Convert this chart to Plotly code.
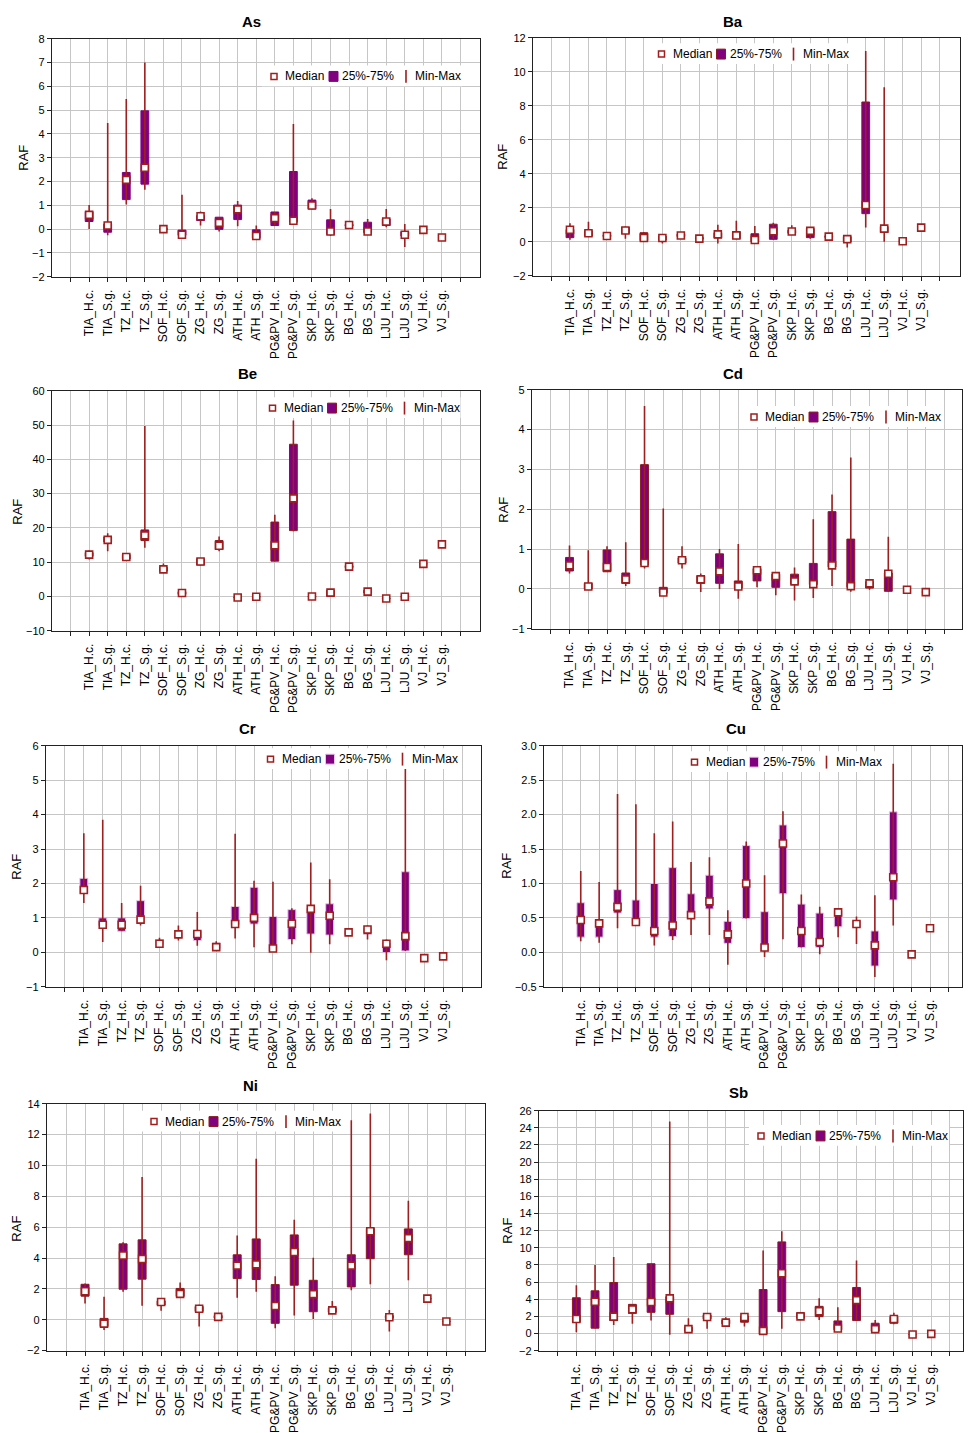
import plotly.graph_objects as go

W, H = 969, 1433

CATEGORIES = ["TIA_H.c.", "TIA_S.g.", "TZ_H.c.", "TZ_S.g.", "SOF_H.c.", "SOF_S.g.",
              "ZG_H.c.", "ZG_S.g.", "ATH_H.c.", "ATH_S.g.", "PG&PV_H.c.", "PG&PV_S.g.",
              "SKP_H.c.", "SKP_S.g.", "BG_H.c.", "BG_S.g.", "LJU_H.c.", "LJU_S.g.",
              "VJ_H.c.", "VJ_S.g."]

# ---- As ----
AS_MIN = [0.00, -0.26, 1.03, 1.65, -0.05, -0.30, 0.15, -0.10, 0.12, -0.44, 0.15, 0.29, 0.82, -0.29, 0.12, -0.15, 0.08, -0.75, -0.03, -0.35]
AS_Q1 = [0.32, -0.13, 1.24, 1.89, -0.02, -0.26, 0.36, -0.01, 0.40, -0.38, 0.15, 0.29, 0.85, -0.22, 0.13, -0.15, 0.15, -0.29, -0.03, -0.35]
AS_MED = [0.60, 0.15, 2.07, 2.58, 0.00, -0.24, 0.54, 0.26, 0.83, -0.29, 0.46, 0.35, 0.99, -0.10, 0.17, -0.10, 0.32, -0.24, -0.03, -0.35]
AS_Q3 = [0.74, 0.22, 2.38, 4.97, 0.03, -0.04, 0.57, 0.50, 1.01, -0.03, 0.72, 2.42, 1.22, 0.39, 0.20, 0.29, 0.43, -0.11, -0.03, -0.35]
AS_MAX = [1.01, 4.46, 5.47, 7.00, 0.05, 1.44, 0.74, 0.50, 1.18, 0.15, 0.72, 4.42, 1.30, 0.85, 0.20, 0.43, 0.85, 0.22, -0.03, -0.35]

# ---- Ba ----
BA_MIN = [0.11, 0.30, 0.28, 0.18, 0.06, -0.10, 0.28, 0.12, -0.10, 0.15, -0.05, 0.10, 0.39, 0.18, 0.22, -0.34, 0.83, 0.00, 0.03, 0.83]
BA_Q1 = [0.24, 0.33, 0.30, 0.49, 0.06, 0.10, 0.30, 0.15, 0.23, 0.18, 0.00, 0.14, 0.50, 0.24, 0.25, -0.01, 1.65, 0.54, 0.03, 0.83]
BA_MED = [0.70, 0.50, 0.34, 0.66, 0.22, 0.22, 0.37, 0.18, 0.43, 0.37, 0.10, 0.62, 0.60, 0.64, 0.30, 0.15, 2.16, 0.77, 0.03, 0.83]
BA_Q3 = [0.72, 0.65, 0.40, 0.84, 0.53, 0.33, 0.45, 0.25, 0.53, 0.60, 0.47, 1.03, 0.68, 0.78, 0.35, 0.30, 8.22, 0.89, 0.03, 0.83]
BA_MAX = [1.08, 1.17, 0.42, 0.89, 0.57, 0.33, 0.48, 0.27, 1.00, 1.23, 0.93, 1.12, 0.97, 0.80, 0.37, 0.30, 11.22, 9.08, 0.03, 0.83]

# ---- Be ----
BE_MIN = [10.8, 13.2, 10.7, 14.2, 6.9, 0.4, 9.0, 13.2, -0.5, -0.3, 10.3, 19.0, -0.2, 0.0, 8.3, 0.9, -0.8, -0.3, 9.5, 15.2]
BE_Q1 = [11.7, 15.9, 10.9, 16.3, 7.4, 0.6, 9.2, 13.7, -0.4, -0.2, 10.3, 19.2, -0.1, 0.1, 8.4, 1.0, -0.7, -0.2, 9.5, 15.2]
BE_MED = [12.2, 16.5, 11.5, 17.8, 7.9, 1.0, 10.2, 14.8, -0.3, -0.1, 14.9, 28.6, 0.0, 1.1, 8.7, 1.4, -0.6, -0.1, 9.5, 15.2]
BE_Q3 = [12.8, 17.3, 12.2, 19.4, 8.5, 1.4, 11.0, 16.3, -0.2, 0.0, 21.7, 44.4, 0.1, 1.8, 9.0, 1.8, -0.5, 0.0, 9.5, 15.2]
BE_MAX = [13.4, 18.4, 12.6, 49.7, 9.6, 2.0, 11.2, 17.5, -0.1, 0.1, 23.8, 51.3, 0.2, 2.2, 9.1, 1.9, -0.4, 0.1, 9.5, 15.2]

# ---- Cd ----
CD_MIN = [0.39, 0.00, 0.43, 0.07, 0.51, -0.13, 0.51, -0.08, 0.00, -0.25, 0.04, -0.16, -0.29, -0.23, 0.07, -0.07, -0.02, -0.07, -0.02, -0.08]
CD_Q1 = [0.45, 0.00, 0.43, 0.14, 0.60, -0.11, 0.65, 0.14, 0.14, 0.02, 0.20, 0.04, 0.12, 0.11, 0.55, 0.04, 0.02, -0.06, -0.02, -0.08]
CD_MED = [0.59, 0.06, 0.55, 0.24, 0.65, -0.09, 0.72, 0.24, 0.44, 0.06, 0.47, 0.32, 0.19, 0.12, 0.59, 0.07, 0.14, 0.38, -0.02, -0.08]
CD_Q3 = [0.79, 0.14, 0.98, 0.40, 3.12, 0.04, 0.78, 0.33, 0.88, 0.20, 0.51, 0.37, 0.37, 0.64, 1.94, 1.25, 0.18, 0.40, -0.02, -0.08]
CD_MAX = [1.09, 0.97, 1.07, 1.17, 4.59, 2.02, 1.07, 0.39, 1.00, 1.13, 0.51, 0.37, 0.54, 1.75, 2.37, 3.30, 0.22, 1.31, -0.02, -0.08]

# ---- Cr ----
CR_MIN = [1.43, 0.30, 0.61, 0.78, 0.21, 0.34, 0.19, 0.08, 0.40, 0.15, 0.04, 0.23, -0.01, 0.23, 0.48, 0.37, -0.23, 0.04, -0.17, -0.12]
CR_Q1 = [1.71, 0.78, 0.61, 0.85, 0.23, 0.42, 0.34, 0.11, 0.80, 0.82, 0.04, 0.37, 0.53, 0.50, 0.52, 0.52, -0.01, 0.04, -0.17, -0.12]
CR_MED = [1.81, 0.80, 0.80, 0.95, 0.25, 0.52, 0.53, 0.15, 0.82, 1.00, 0.11, 0.83, 1.26, 1.06, 0.58, 0.66, 0.25, 0.47, -0.17, -0.12]
CR_Q3 = [2.15, 1.00, 1.00, 1.50, 0.37, 0.56, 0.61, 0.27, 1.33, 1.89, 1.04, 1.24, 1.28, 1.41, 0.62, 0.70, 0.26, 2.34, -0.17, -0.12]
CR_MAX = [3.46, 3.85, 1.43, 1.93, 0.42, 0.78, 1.17, 0.32, 3.44, 2.08, 2.05, 1.28, 2.61, 2.12, 0.64, 0.78, 0.37, 5.60, -0.17, -0.12]

# ---- Cu ----
CU_MIN = [0.16, 0.14, 0.35, 0.42, 0.10, 0.18, 0.25, 0.25, -0.18, 0.49, -0.07, 0.19, 0.07, -0.03, 0.22, 0.12, -0.36, 0.39, -0.03, 0.35]
CU_Q1 = [0.22, 0.22, 0.57, 0.41, 0.22, 0.23, 0.49, 0.63, 0.13, 0.49, 0.01, 0.85, 0.07, 0.07, 0.37, 0.37, -0.20, 0.76, -0.03, 0.35]
CU_MED = [0.47, 0.42, 0.66, 0.44, 0.31, 0.39, 0.54, 0.74, 0.26, 1.00, 0.07, 1.58, 0.31, 0.15, 0.58, 0.41, 0.10, 1.09, -0.03, 0.35]
CU_Q3 = [0.72, 0.46, 0.91, 0.76, 1.00, 1.23, 0.85, 1.12, 0.45, 1.55, 0.59, 1.85, 0.70, 0.57, 0.60, 0.45, 0.31, 2.04, -0.03, 0.35]
CU_MAX = [1.18, 1.02, 2.30, 2.15, 1.73, 1.90, 1.31, 1.38, 0.61, 1.61, 1.12, 2.05, 0.84, 0.66, 0.63, 0.52, 0.83, 2.74, -0.03, 0.35]

# ---- Ni ----
NI_MIN = [1.06, -0.66, 1.81, 0.91, 0.59, 1.47, -0.44, 0.10, 1.43, 1.81, -0.55, 0.28, 0.05, 0.42, 1.92, 2.30, -0.76, 2.56, 1.37, -0.11]
NI_Q1 = [1.53, -0.44, 1.98, 2.63, 0.95, 1.51, 0.54, 0.12, 2.67, 2.61, -0.23, 2.24, 0.52, 0.48, 2.13, 3.96, 0.10, 4.21, 1.37, -0.11]
NI_MED = [1.85, -0.25, 4.17, 3.94, 1.15, 1.68, 0.71, 0.19, 3.51, 3.59, 0.89, 4.39, 1.66, 0.61, 3.51, 5.74, 0.16, 5.29, 1.37, -0.11]
NI_Q3 = [2.30, 0.09, 4.92, 5.18, 1.23, 2.03, 0.86, 0.27, 4.21, 5.24, 2.28, 5.50, 2.56, 0.78, 4.21, 5.93, 0.27, 5.89, 1.37, -0.11]
NI_MAX = [2.35, 1.49, 5.03, 9.26, 1.32, 2.41, 0.97, 0.30, 5.46, 10.44, 2.82, 6.49, 4.02, 1.22, 12.93, 13.36, 0.63, 7.71, 1.37, -0.11]

# ---- Sb ----
SB_MIN = [0.16, 0.62, 1.00, 1.13, 1.51, -0.15, 0.16, 0.55, 1.08, 0.81, -0.08, 0.55, 1.58, 1.58, 0.31, 1.51, 0.04, 1.08, -0.12, -0.04]
SB_Q1 = [1.32, 0.62, 1.51, 2.36, 2.47, 2.24, 0.27, 1.70, 1.12, 1.32, -0.08, 2.55, 1.78, 1.97, 0.43, 1.51, 0.27, 1.20, -0.12, -0.04]
SB_MED = [1.70, 3.71, 1.97, 2.82, 3.67, 4.10, 0.51, 1.93, 1.27, 1.93, 0.31, 7.03, 2.00, 2.59, 0.58, 3.90, 0.51, 1.70, -0.12, -0.04]
SB_Q3 = [4.17, 4.98, 5.95, 3.40, 8.14, 4.29, 0.74, 2.16, 1.58, 2.04, 5.13, 10.69, 2.36, 3.17, 1.47, 5.37, 1.20, 1.97, -0.12, -0.04]
SB_MAX = [5.64, 8.00, 8.92, 3.40, 8.14, 24.73, 1.78, 2.16, 1.89, 2.28, 9.69, 11.92, 2.47, 4.10, 3.05, 8.53, 1.58, 2.43, -0.12, -0.04]

PURPLE = "#800080"
WHISKER = "#9e1f1f"
MEDIAN_EDGE = "#a01e1e"
DARK_EDGE = "#8b1a1a"
PALE_EDGE = "#e6c8e6"
GRID = "#c6c6c6"
FONT = "Liberation Sans, Arial, sans-serif"

# panel layout: plot box in pixels (left, top, right, bottom), x extent, y axis, legend anchor, title & axis-label anchors
PANELS = [
    dict(name="As", data=(AS_MIN, AS_Q1, AS_MED, AS_Q3, AS_MAX), box=(52, 33, 480, 273), xmax=23.05,
         yrange=(-2, 8), dtick=1, fmt="", edge=PURPLE, leg=(274, 71), title=(251, 16), raf=(24, 153)),
    dict(name="Ba", data=(BA_MIN, BA_Q1, BA_MED, BA_Q3, BA_MAX), box=(533, 32, 960, 272), xmax=23.1,
         yrange=(-2, 12), dtick=2, fmt="", edge=DARK_EDGE, leg=(661.5, 48.5), title=(733, 16), raf=(503, 152)),
    dict(name="Be", data=(BE_MIN, BE_Q1, BE_MED, BE_Q3, BE_MAX), box=(52, 388, 480, 630), xmax=23.05,
         yrange=(-10, 60), dtick=10, fmt="", edge=DARK_EDGE, leg=(272.5, 405.5), title=(248, 371), raf=(18, 510)),
    dict(name="Cd", data=(CD_MIN, CD_Q1, CD_MED, CD_Q3, CD_MAX), box=(532, 387, 962, 628), xmax=22.93,
         yrange=(-1, 5), dtick=1, fmt="", edge=DARK_EDGE, leg=(754, 414.5), title=(733, 371), raf=(504, 508)),
    dict(name="Cr", data=(CR_MIN, CR_Q1, CR_MED, CR_Q3, CR_MAX), box=(46, 746, 481, 989), xmax=23.0,
         yrange=(-1, 6), dtick=1, fmt="", edge=PALE_EDGE, leg=(270.5, 759.5), title=(248, 729), raf=(17, 868)),
    dict(name="Cu", data=(CU_MIN, CU_Q1, CU_MED, CU_Q3, CU_MAX), box=(544, 746, 962, 989), xmax=22.74,
         yrange=(-0.5, 3.0), dtick=0.5, fmt=".1f", edge=PALE_EDGE, leg=(694.5, 762.5), title=(736, 729), raf=(507, 867)),
    dict(name="Ni", data=(NI_MIN, NI_Q1, NI_MED, NI_Q3, NI_MAX), box=(47, 1107, 485, 1356), xmax=23.03,
         yrange=(-2, 14), dtick=2, fmt="", edge=DARK_EDGE, leg=(154, 1125), title=(250, 1089), raf=(17, 1233)),
    dict(name="Sb", data=(SB_MIN, SB_Q1, SB_MED, SB_Q3, SB_MAX), box=(539, 1114, 963, 1356), xmax=22.7,
         yrange=(-2, 26), dtick=2, fmt="", edge=DARK_EDGE, leg=(761, 1139.5), title=(738, 1096), raf=(508, 1235)),
]


def fx(x):
    return x / W


def fy(y):
    return 1 - y / H


fig = go.Figure()
shapes, annotations = [], []
positions = list(range(2, 2 + len(CATEGORIES)))

for i, p in enumerate(PANELS):
    n = i + 1
    xa = "x" if n == 1 else f"x{n}"
    ya = "y" if n == 1 else f"y{n}"
    lo, q1, med, q3, hi = p["data"]

    # min-max whiskers
    wx, wy = [], []
    for xp, a, b in zip(positions, lo, hi):
        wx += [xp, xp, None]
        wy += [a, b, None]
    fig.add_trace(go.Scatter(x=wx, y=wy, mode="lines", line=dict(color=WHISKER, width=1.6),
                             xaxis=xa, yaxis=ya, showlegend=False, hoverinfo="skip"))
    # 25%-75% boxes
    fig.add_trace(go.Bar(x=positions, y=[b - a for a, b in zip(q1, q3)], base=q1, width=0.42,
                         marker=dict(color=PURPLE, line=dict(color=p["edge"], width=1)),
                         xaxis=xa, yaxis=ya, showlegend=False))
    # medians
    fig.add_trace(go.Scatter(x=positions, y=med, mode="markers",
                             marker=dict(symbol="square", size=7, color="white",
                                         line=dict(color=MEDIAN_EDGE, width=1.6)),
                             xaxis=xa, yaxis=ya, showlegend=False))

    l, t, r, b = p["box"]
    xkey = "xaxis" if n == 1 else f"xaxis{n}"
    ykey = "yaxis" if n == 1 else f"yaxis{n}"
    fig.layout[xkey] = dict(
        domain=[fx(l), fx(r)], anchor=ya, range=[0, p["xmax"]],
        tickmode="array", tickvals=list(range(1, 23)), ticktext=[""] + CATEGORIES + [""],
        tickangle=-90, ticks="outside", ticklen=4, tickcolor="#222", ticklabelstandoff=3,
        showgrid=True, gridcolor=GRID, gridwidth=1, zeroline=False,
        showline=True, linecolor="#222", linewidth=1.3, mirror=True,
        tickfont=dict(family=FONT, size=12, color="black"), fixedrange=True)
    fig.layout[ykey] = dict(
        domain=[fy(b), fy(t)], anchor=xa, range=list(p["yrange"]),
        tickmode="linear", tick0=0, dtick=p["dtick"], tickformat=p["fmt"],
        ticks="outside", ticklen=4, tickcolor="#222",
        showgrid=True, gridcolor=GRID, gridwidth=1, zeroline=False,
        showline=True, linecolor="#222", linewidth=1.3, mirror=True,
        tickfont=dict(family=FONT, size=11, color="black"), fixedrange=True)

    # panel title and axis label
    tx, ty = p["title"]
    annotations.append(dict(x=fx(tx), y=fy(ty), xref="paper", yref="paper", text=f"<b>{p['name']}</b>",
                            showarrow=False, font=dict(family=FONT, size=15, color="black"),
                            xanchor="center", yanchor="middle"))
    rx, ry = p["raf"]
    annotations.append(dict(x=fx(rx), y=fy(ry), xref="paper", yref="paper", text="RAF", textangle=-90,
                            showarrow=False, font=dict(family=FONT, size=13, color="black"),
                            xanchor="center", yanchor="middle"))

    # in-plot legend
    cx, cy = p["leg"]
    shapes.append(dict(type="rect", xref="paper", yref="paper", layer="above",
                       x0=fx(cx - 12), x1=fx(cx + 188), y0=fy(cy + 10), y1=fy(cy - 11),
                       fillcolor="white", line=dict(width=0)))
    shapes.append(dict(type="rect", xref="paper", yref="paper", layer="above",
                       x0=fx(cx - 3), x1=fx(cx + 3), y0=fy(cy + 3), y1=fy(cy - 3),
                       fillcolor="white", line=dict(color=MEDIAN_EDGE, width=1.5)))
    shapes.append(dict(type="rect", xref="paper", yref="paper", layer="above",
                       x0=fx(cx + 55), x1=fx(cx + 64), y0=fy(cy + 5), y1=fy(cy - 5),
                       fillcolor=PURPLE, line=dict(color=p["edge"], width=1)))
    shapes.append(dict(type="line", xref="paper", yref="paper", layer="above",
                       x0=fx(cx + 132), x1=fx(cx + 132), y0=fy(cy + 6.5), y1=fy(cy - 6.5),
                       line=dict(color=WHISKER, width=1.6)))
    for dx, label in ((9, "Median"), (66, "25%-75%"), (139, "Min-Max")):
        annotations.append(dict(x=fx(cx + dx), y=fy(cy), xref="paper", yref="paper", text=label,
                                showarrow=False, font=dict(family=FONT, size=12, color="black"),
                                xanchor="left", yanchor="middle"))

fig.update_layout(
    width=W, height=H, margin=dict(l=0, r=0, t=0, b=0),
    paper_bgcolor="white", plot_bgcolor="white",
    showlegend=False, shapes=shapes, annotations=annotations,
    font=dict(family=FONT, color="black"),
)

fig.write_html("out.html")
